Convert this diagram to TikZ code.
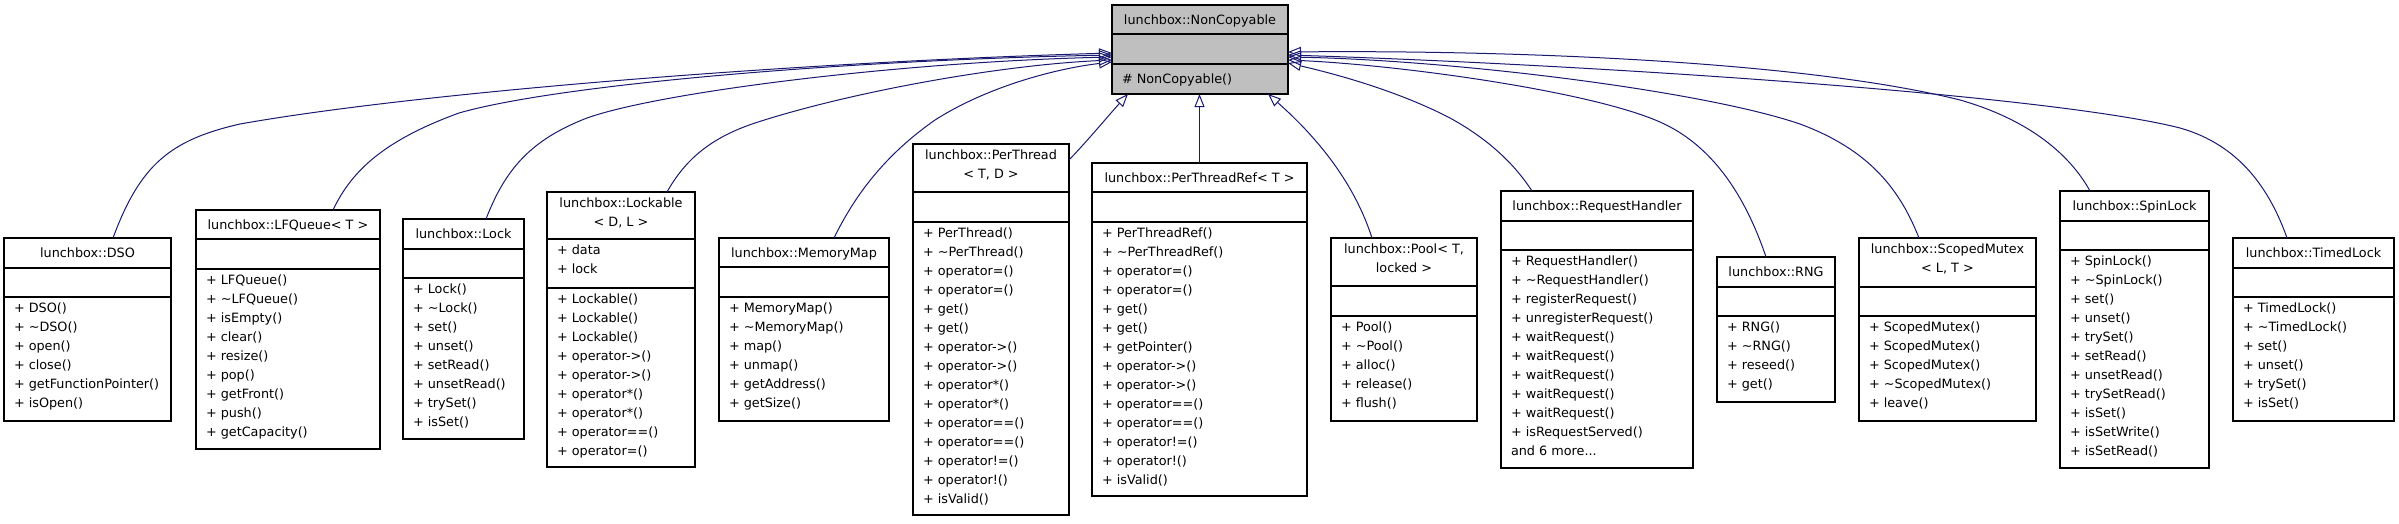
\documentclass[tikz,border=0pt]{standalone}
\usepackage{fontspec}
\setmainfont{DejaVu Sans}
\usetikzlibrary{arrows.meta,fit,calc}
\definecolor{edgeblue}{RGB}{25,25,112}
\definecolor{basegray}{RGB}{191,191,191}
\tikzset{
  clsbox/.style={draw=black, line width=1.2pt, fill=white, inner sep=0pt, outer sep=0pt},
  basebox/.style={clsbox, fill=basegray},
  txt/.style={inner sep=0pt, outer sep=0pt, font=\fontsize{12.8}{19}\selectfont, execute at begin node={\rule{0pt}{14pt}}},
  hdr/.style={txt, anchor=north, align=center},
  mem/.style={txt, anchor=north west, align=left},
  divider/.style={line width=1.2pt},
  inh/.style={draw=edgeblue, line width=1pt, -{Triangle[open, length=13pt, width=10pt, line width=1pt]}},
}
% #1 name, #2 left, #3 top, #4 right, #5 div1, #6 div2, #7 bottom, #8 header, #9 members
\newcommand\umlbox[9]{%
  \node[clsbox, fit={(#2,#3) (#4,#7)}] (#1) {};
  \draw[divider] (#2,#5) -- (#4,#5) (#2,#6) -- (#4,#6);
  \node[hdr] (#1-h) at ({(#2+#4)/2},#3+5.5) {#8};
  \node[mem] (#1-m) at (#2+10,#6+5.5) {#9};
}
\newcommand\tl{\textasciitilde}
\begin{document}
\begin{tikzpicture}[x=1pt,y=-1pt]
\useasboundingbox (0,0) rectangle (2399,523);

% base class
\node[basebox, fit={(1112,5) (1288,94)}] (nc) {};
\draw[divider] (1112,34) -- (1288,34) (1112,64) -- (1288,64);
\node[hdr] (nc-h) at (1200,10.5) {lunchbox::NonCopyable};
\node[mem] (nc-m) at (1122,69.5) {\# NonCopyable()};

\umlbox{dso}{4}{238}{171}{268}{297}{421}{lunchbox::DSO}
 {+ DSO()\\+ \tl DSO()\\+ open()\\+ close()\\+ getFunctionPointer()\\+ isOpen()}
\umlbox{lfq}{196}{210}{380}{239}{269}{449}{lunchbox::LFQueue< T >}
 {+ LFQueue()\\+ \tl LFQueue()\\+ isEmpty()\\+ clear()\\+ resize()\\+ pop()\\+ getFront()\\+ push()\\+ getCapacity()}
\umlbox{lock}{403}{219}{524}{249}{278}{439}{lunchbox::Lock}
 {+ Lock()\\+ \tl Lock()\\+ set()\\+ unset()\\+ setRead()\\+ unsetRead()\\+ trySet()\\+ isSet()}
\umlbox{lockable}{547}{192}{695}{239}{288}{467}{lunchbox::Lockable\\< D, L >}
 {+ Lockable()\\+ Lockable()\\+ Lockable()\\+ operator->()\\+ operator->()\\+ operator*()\\+ operator*()\\+ operator==()\\+ operator=()}
\node[mem] (lockable-a) at (557,244.5) {+ data\\+ lock};
\umlbox{mmap}{719}{238}{889}{267}{297}{421}{lunchbox::MemoryMap}
 {+ MemoryMap()\\+ \tl MemoryMap()\\+ map()\\+ unmap()\\+ getAddress()\\+ getSize()}
\umlbox{pth}{913}{144}{1069}{192}{222}{515}{lunchbox::PerThread\\< T, D >}
 {+ PerThread()\\+ \tl PerThread()\\+ operator=()\\+ operator=()\\+ get()\\+ get()\\+ operator->()\\+ operator->()\\+ operator*()\\+ operator*()\\+ operator==()\\+ operator==()\\+ operator!=()\\+ operator!()\\+ isValid()}
\umlbox{ptr}{1092}{163}{1307}{192}{222}{496}{lunchbox::PerThreadRef< T >}
 {+ PerThreadRef()\\+ \tl PerThreadRef()\\+ operator=()\\+ operator=()\\+ get()\\+ get()\\+ getPointer()\\+ operator->()\\+ operator->()\\+ operator==()\\+ operator==()\\+ operator!=()\\+ operator!()\\+ isValid()}
\umlbox{pool}{1331}{238}{1477}{286}{316}{421}{lunchbox::Pool< T,\\locked >}
 {+ Pool()\\+ \tl Pool()\\+ alloc()\\+ release()\\+ flush()}
\umlbox{reqh}{1501}{191}{1693}{221}{250}{468}{lunchbox::RequestHandler}
 {+ RequestHandler()\\+ \tl RequestHandler()\\+ registerRequest()\\+ unregisterRequest()\\+ waitRequest()\\+ waitRequest()\\+ waitRequest()\\+ waitRequest()\\+ waitRequest()\\+ isRequestServed()\\and 6 more...}
\umlbox{rng}{1717}{257}{1835}{287}{316}{402}{lunchbox::RNG}
 {+ RNG()\\+ \tl RNG()\\+ reseed()\\+ get()}
\umlbox{smx}{1859}{238}{2036}{287}{316}{421}{lunchbox::ScopedMutex\\< L, T >}
 {+ ScopedMutex()\\+ ScopedMutex()\\+ ScopedMutex()\\+ \tl ScopedMutex()\\+ leave()}
\umlbox{spin}{2060}{191}{2209}{221}{250}{468}{lunchbox::SpinLock}
 {+ SpinLock()\\+ \tl SpinLock()\\+ set()\\+ unset()\\+ trySet()\\+ setRead()\\+ unsetRead()\\+ trySetRead()\\+ isSet()\\+ isSetWrite()\\+ isSetRead()}
\umlbox{timed}{2233}{238}{2394}{268}{297}{421}{lunchbox::TimedLock}
 {+ TimedLock()\\+ \tl TimedLock()\\+ set()\\+ unset()\\+ trySet()\\+ isSet()}

% inheritance edges, left side
\draw[inh] ($(dso.north west)+(109,0)$) .. controls (140,165) and (170,140) .. (240,124)
  .. controls (420,92) and (800,62) .. ($(nc.north west)+(0,48)$);
\draw[inh] ($(lfq.north west)+(137,0)$) .. controls (352,170) and (385,140) .. (459,113)
  .. controls (560,84) and (850,60) .. ($(nc.north west)+(0,50)$);
\draw[inh] ($(lock.north west)+(83,0)$) .. controls (505,170) and (530,140) .. (587,118)
  .. controls (660,92) and (900,62) .. ($(nc.north west)+(0,52)$);
\draw[inh] ($(lockable.north west)+(120,0)$) .. controls (685,160) and (710,138) .. (755,123)
  .. controls (850,92) and (1000,65) .. ($(nc.north west)+(0,55)$);
\draw[inh] ($(mmap.north west)+(115,0)$) .. controls (855,195) and (885,155) .. (935,120)
  .. controls (990,85) and (1060,68) .. ($(nc.north west)+(0,57)$);
% bottom
\draw[inh] ($(pth.north east)+(0,16)$) .. controls (1090,138) and (1108,116) .. ($(nc.south west)+(16,0)$);
\draw[inh] (ptr.north) -- (ptr.north |- nc.south);
\draw[inh] ($(pool.north west)+(41,0)$) .. controls (1355,185) and (1320,140) .. ($(nc.south east)+(-20,0)$);
% right side
\draw[inh] ($(reqh.north west)+(31,0)$) .. controls (1515,165) and (1490,140) .. (1450,118)
  .. controls (1400,92) and (1340,75) .. ($(nc.north east)+(0,58)$);
\draw[inh] ($(rng.north west)+(49,0)$) .. controls (1745,195) and (1712,145) .. (1660,122)
  .. controls (1590,91) and (1400,65) .. ($(nc.north east)+(0,55)$);
\draw[inh] ($(smx.north west)+(60,0)$) .. controls (1900,190) and (1870,150) .. (1800,124)
  .. controls (1700,90) and (1450,60) .. ($(nc.north east)+(0,52)$);
\draw[inh] ($(spin.north west)+(30,0)$) .. controls (2070,155) and (2030,120) .. (1960,100)
  .. controls (1800,60) and (1500,50) .. ($(nc.north east)+(0,47)$);
\draw[inh] ($(timed.north west)+(54,0)$) .. controls (2270,190) and (2240,145) .. (2180,128)
  .. controls (2050,95) and (1600,65) .. ($(nc.north east)+(0,50)$);
\end{tikzpicture}
\end{document}
